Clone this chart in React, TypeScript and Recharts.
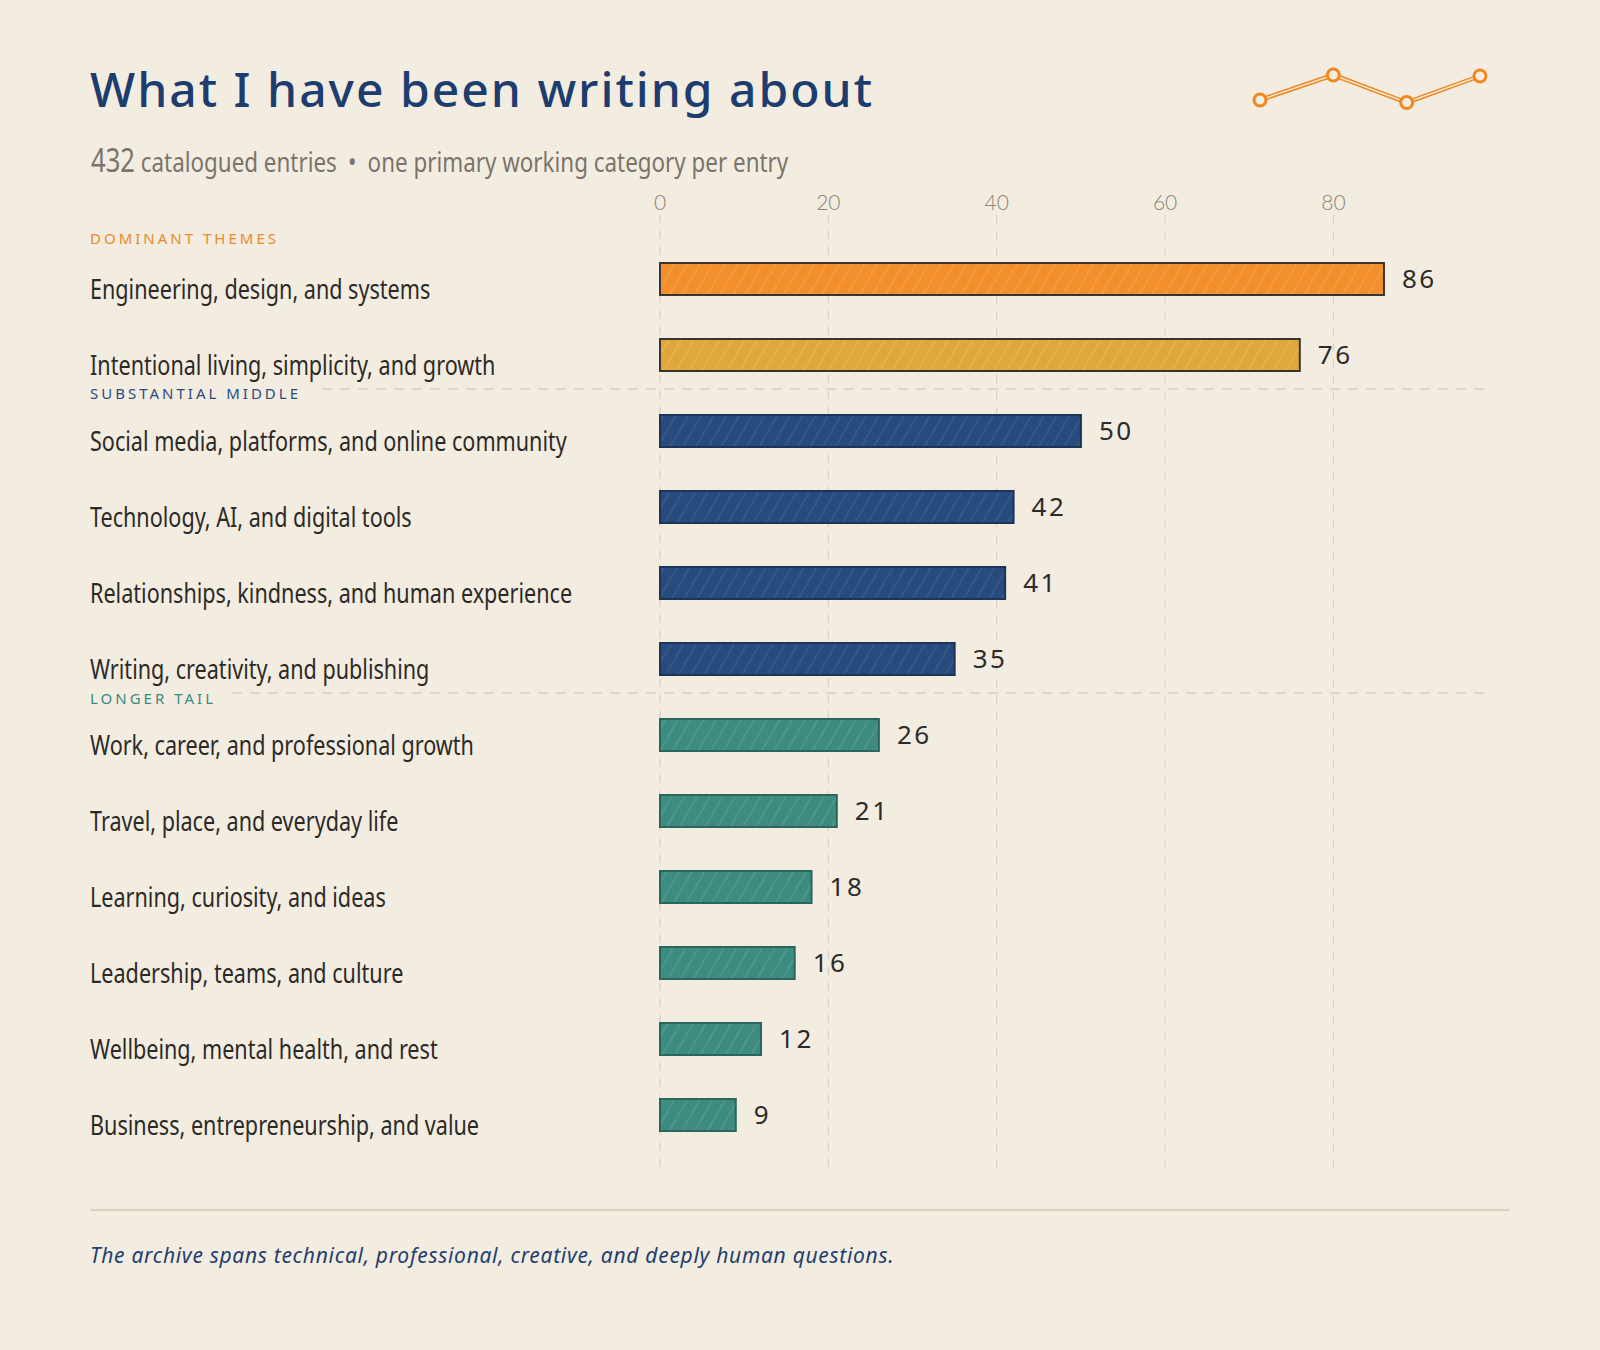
import { Bar, BarChart, CartesianGrid, Cell, LabelList, Line, LineChart, XAxis, YAxis } from "recharts"

const categories = [
  "Engineering, design, and systems",
  "Intentional living, simplicity, and growth",
  "Social media, platforms, and online community",
  "Technology, AI, and digital tools",
  "Relationships, kindness, and human experience",
  "Writing, creativity, and publishing",
  "Work, career, and professional growth",
  "Travel, place, and everyday life",
  "Learning, curiosity, and ideas",
  "Leadership, teams, and culture",
  "Wellbeing, mental health, and rest",
  "Business, entrepreneurship, and value",
]

const entryCounts = [86, 76, 50, 42, 41, 35, 26, 21, 18, 16, 12, 9]

const categoryTone = [
  "orange", "gold", "navy", "navy", "navy", "navy",
  "teal", "teal", "teal", "teal", "teal", "teal",
]

const axisTicks = [0, 20, 40, 60, 80]

const groupLabels = ["DOMINANT THEMES", "SUBSTANTIAL MIDDLE", "LONGER TAIL"]

const sparkValues = [3, 28, 0.5, 27]

const bg = "#f3ece0"

const tones: Record<string, { fill: string; hatch: string; stroke: string }> = {
  orange: { fill: "#f38f2b", hatch: "#f8b46a", stroke: "#3a3530" },
  gold: { fill: "#e0a83b", hatch: "#ecc67a", stroke: "#3a3530" },
  navy: { fill: "#264b7c", hatch: "#5677a6", stroke: "#1c3458" },
  teal: { fill: "#3e8b80", hatch: "#6fb0a5", stroke: "#2b655d" },
}

const rows = categories.map((name, i) => ({
  name,
  count: entryCounts[i],
  tone: categoryTone[i],
}))

const sparkRows = sparkValues.map((v, i) => ({ step: i, v }))

const labelFont = "'Noto Sans', 'Open Sans', sans-serif"

// the original uses a narrow hand font, so squeeze a regular sans horizontally
function CategoryTick(props: any) {
  const { y, payload } = props
  return (
    <text
      transform={`translate(90 ${y + 20}) scale(0.8 1)`}
      fill="#2c2a27"
      fontSize={27}
      fontFamily={labelFont}
    >
      {payload.value}
    </text>
  )
}

export default function App() {
  return (
    <div
      style={{
        position: "absolute",
        left: 0,
        top: 0,
        width: 1600,
        height: 1350,
        background: bg,
        overflow: "hidden",
      }}
    >
      <svg
        width={1600}
        height={1350}
        style={{ position: "absolute", left: 0, top: 0, pointerEvents: "none" }}
      >
        <text
          x={90}
          y={107}
          fill="#1c3d6e"
          fontSize={48}
          fontWeight={500}
          letterSpacing={2}
          fontFamily="'Noto Sans', sans-serif"
        >
          What I have been writing about
        </text>
        <text transform="translate(91 172) scale(0.8 1)" fill="#7a746c" fontSize={28} fontFamily={labelFont}>
          <tspan fontSize={32}>432</tspan> catalogued entries
          <tspan dx={14}>•</tspan>
          <tspan dx={14}>one primary working category per entry</tspan>
        </text>

        <line x1={322} x2={1485} y1={389} y2={389} stroke="#d8cfc0" strokeWidth={1.5} strokeDasharray="10 8" />
        <line x1={232} x2={1485} y1={693} y2={693} stroke="#d8cfc0" strokeWidth={1.5} strokeDasharray="10 8" />

        <line x1={90} x2={1510} y1={1210} y2={1210} stroke="#ddd3c2" strokeWidth={2.5} />
        <text
          x={90}
          y={1263}
          fill="#1f3f6e"
          fontSize={21}
          fontStyle="italic"
          letterSpacing={0.7}
          fontFamily="'Noto Sans', sans-serif"
        >
          The archive spans technical, professional, creative, and deeply human questions.
        </text>
      </svg>

      <div style={{ position: "absolute", left: 0, top: 0 }}>
        <BarChart
          width={1600}
          height={1200}
          data={rows}
          layout="vertical"
          margin={{ top: 185, right: 115, bottom: 30, left: 90 }}
        >
          <defs>
            {Object.entries(tones).map(([key, t]) => (
              <pattern
                key={key}
                id={`hatch-${key}`}
                patternUnits="userSpaceOnUse"
                width={11}
                height={11}
                patternTransform="rotate(30)"
              >
                <rect width={11} height={11} fill={t.fill} />
                <line x1={1} y1={0} x2={1} y2={11} stroke={t.hatch} strokeWidth={1} strokeOpacity={0.55} />
              </pattern>
            ))}
          </defs>
          <CartesianGrid
            horizontal={false}
            verticalValues={axisTicks}
            stroke="#d7cfc2"
            strokeDasharray="8 8"
            strokeWidth={1.2}
          />
          <XAxis
            type="number"
            orientation="top"
            domain={[0, 98]}
            ticks={axisTicks}
            height={30}
            tickSize={0}
            tickMargin={5}
            axisLine={false}
            tickLine={false}
            tick={{ fill: "#8a847c", fontSize: 21, fontFamily: "Lato, sans-serif", fontWeight: 300 }}
          />
          <YAxis
            type="category"
            dataKey="name"
            width={570}
            interval={0}
            axisLine={false}
            tickLine={false}
            padding={{ top: 26, bottom: 17 }}
            tick={<CategoryTick />}
          />
          <Bar dataKey="count" barSize={32} strokeWidth={2} isAnimationActive={false}>
            {rows.map((r) => (
              <Cell key={r.name} fill={`url(#hatch-${r.tone})`} stroke={tones[r.tone].stroke} />
            ))}
            <LabelList
              dataKey="count"
              position="right"
              offset={18}
              fill="#2b2b2b"
              fontSize={26}
              fontFamily="'Noto Sans', sans-serif"
              style={{ letterSpacing: 2.5 }}
            />
          </Bar>
        </BarChart>
      </div>

      <svg
        width={1600}
        height={1350}
        style={{ position: "absolute", left: 0, top: 0, pointerEvents: "none" }}
      >
        {[
          { text: groupLabels[0], y: 244, color: "#ea8a2a" },
          { text: groupLabels[1], y: 399, color: "#2b4d80" },
          { text: groupLabels[2], y: 704, color: "#3a8a7e" },
        ].map((g) => (
          <text
            key={g.text}
            x={90}
            y={g.y}
            fill={g.color}
            fontSize={15}
            letterSpacing={3}
            fontFamily="'Noto Sans', sans-serif"
          >
            {g.text}
          </text>
        ))}
      </svg>

      <div style={{ position: "absolute", left: 1250, top: 65 }}>
        <LineChart width={240} height={48} data={sparkRows} margin={{ top: 10, right: 10, bottom: 10, left: 10 }}>
          <XAxis dataKey="step" hide />
          <YAxis hide domain={[0, 28]} />
          <Line dataKey="v" stroke="#f0871f" strokeWidth={4.5} dot={false} isAnimationActive={false} />
          <Line
            dataKey="v"
            stroke={bg}
            strokeWidth={1.4}
            dot={{ r: 6, fill: bg, stroke: "#f0871f", strokeWidth: 3 }}
            isAnimationActive={false}
          />
        </LineChart>
      </div>
    </div>
  )
}
